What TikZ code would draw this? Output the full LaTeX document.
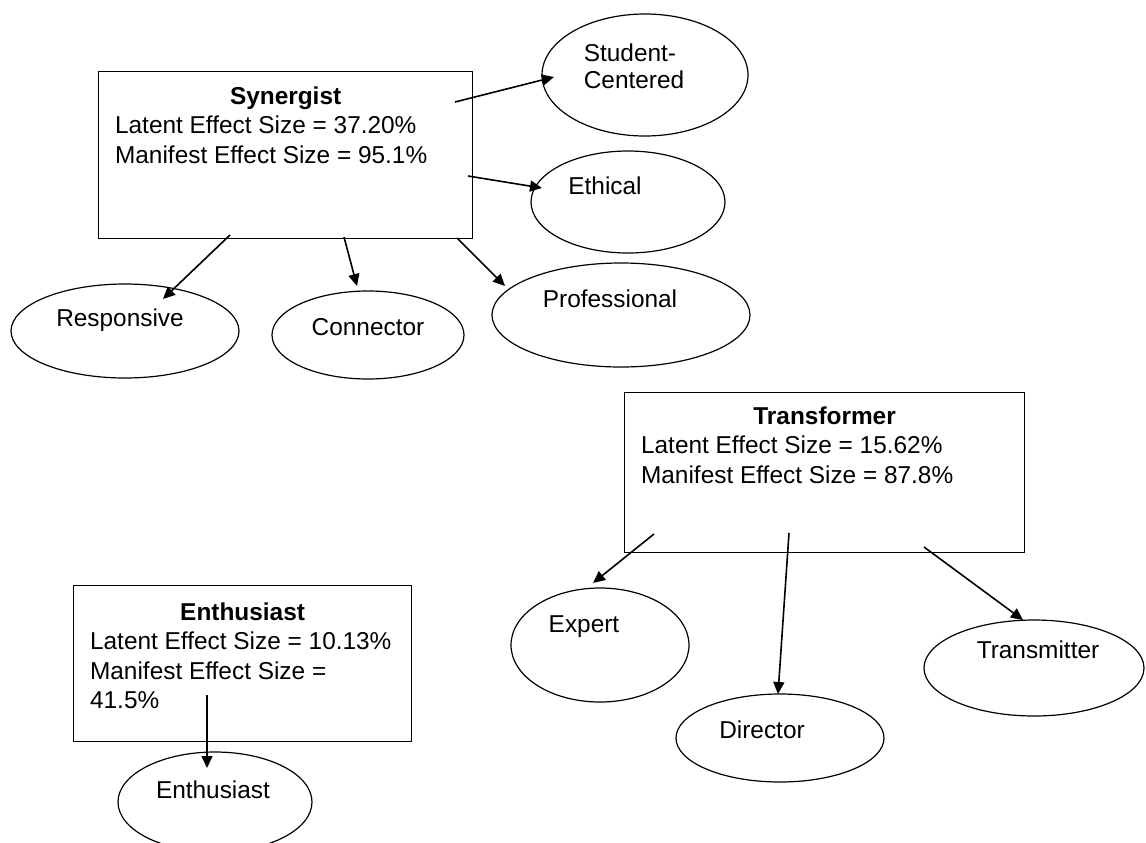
\documentclass[tikz,border=0pt]{standalone}
\usepackage{fontspec}
\setmainfont{Liberation Sans}
\usetikzlibrary{arrows.meta,shapes.geometric}
\begin{document}
\begin{tikzpicture}[x=0.5pt,y=-0.5pt,
  every node/.style={font=\fontsize{12.2pt}{14.6pt}\selectfont},
  every label/.style={inner sep=0pt},
  infobox/.style={draw, line width=0.6pt, rectangle, anchor=north west, inner xsep=8.25pt, inner ysep=0pt},
  oval/.style={draw, line width=0.6pt, ellipse, inner sep=0pt},
  arr/.style={line width=0.8pt, -{Triangle[length=6pt,width=5.5pt]}},
]
\fill[white] (0,0) rectangle (1146,842);
\useasboundingbox (0,0) rectangle (1146,842);

% boxes
\node[infobox] (syn) at (98,71) {\parbox[c][83.5pt][t]{170.5pt}{\centering\rule{0pt}{16.5pt}\textbf{Synergist}\par\raggedright
  \mbox{Latent Effect Size = 37.20\%}\par\mbox{Manifest Effect Size = 95.1\%}}};
\node[infobox] (trans) at (624,392) {\parbox[c][80pt][t]{183.5pt}{\centering\rule{0pt}{16pt}\textbf{Transformer}\par\raggedright
  \mbox{Latent Effect Size = 15.62\%}\par\mbox{Manifest Effect Size = 87.8\%}}};
\node[infobox] (enth) at (73,585) {\parbox[c][78pt][t]{152.5pt}{\centering\rule{0pt}{17.5pt}\textbf{Enthusiast}\par\raggedright
  \mbox{Latent Effect Size = 10.13\%}\par\mbox{Manifest Effect Size =}\par 41.5\%}};

% ellipses
\node[oval, minimum width=103pt, minimum height=61pt,
  label={[align=left, shift={(-11,-9)}, font=\fontsize{12.2pt}{13.5pt}\selectfont]center:Student-\\Centered}] (sc) at (645,75) {};
\node[oval, minimum width=97pt, minimum height=51pt,
  label={[shift={(-23,-16)}]center:Ethical}] (eth) at (628,202) {};
\node[oval, minimum width=129pt, minimum height=52pt,
  label={[shift={(-11,-16)}]center:Professional}] (prof) at (621,315) {};
\node[oval, minimum width=114pt, minimum height=47pt,
  label={[shift={(-5,-11)}]center:Responsive}] (resp) at (125,331) {};
\node[oval, minimum width=96pt, minimum height=44pt,
  label={[shift={(0,-8)}]center:Connector}] (conn) at (368,335) {};
\node[oval, minimum width=89pt, minimum height=57pt,
  label={[shift={(-16,-18)}]center:Expert}] (exp) at (600,645) {};
\node[oval, minimum width=104pt, minimum height=44pt,
  label={[shift={(-18,-8)}]center:Director}] (dir) at (780,738) {};
\node[oval, minimum width=110pt, minimum height=48pt,
  label={[shift={(4,-18)}]center:Transmitter}] (trm) at (1034,668) {};
\node[oval, minimum width=97pt, minimum height=50pt,
  label={[shift={(-2,-12)}]center:Enthusiast}] (enthE) at (215,802) {};

% connector start points (inside the boxes)
\coordinate (s1) at (455,102);
\coordinate (s2) at (468,176);
\coordinate (s3) at (230,235);
\coordinate (s4) at (344,237);
\coordinate (s5) at (457,238);
\coordinate (s6) at (654,534);
\coordinate (s7) at (789,533);
\coordinate (s8) at (924,547);
\coordinate (s9) at (207,695);

\draw[arr] (s1) -- ([shift={(-91,2)}]sc.center);
\draw[arr] (s2) -- ([shift={(-86,-14)}]eth.center);
\draw[arr] (s3) -- ([shift={(38,-32)}]resp.center);
\draw[arr] (s4) -- ([shift={(-11,-49)}]conn.center);
\draw[arr] (s5) -- ([shift={(-116,-29)}]prof.center);
\draw[arr] (s6) -- ([shift={(-7,-62)}]exp.center);
\draw[arr] (s7) -- ([shift={(-2,-44)}]dir.center);
\draw[arr] (s8) -- ([shift={(-11,-48)}]trm.center);
\draw[arr] (s9) -- ([shift={(-8,-34)}]enthE.center);
\end{tikzpicture}
\end{document}
